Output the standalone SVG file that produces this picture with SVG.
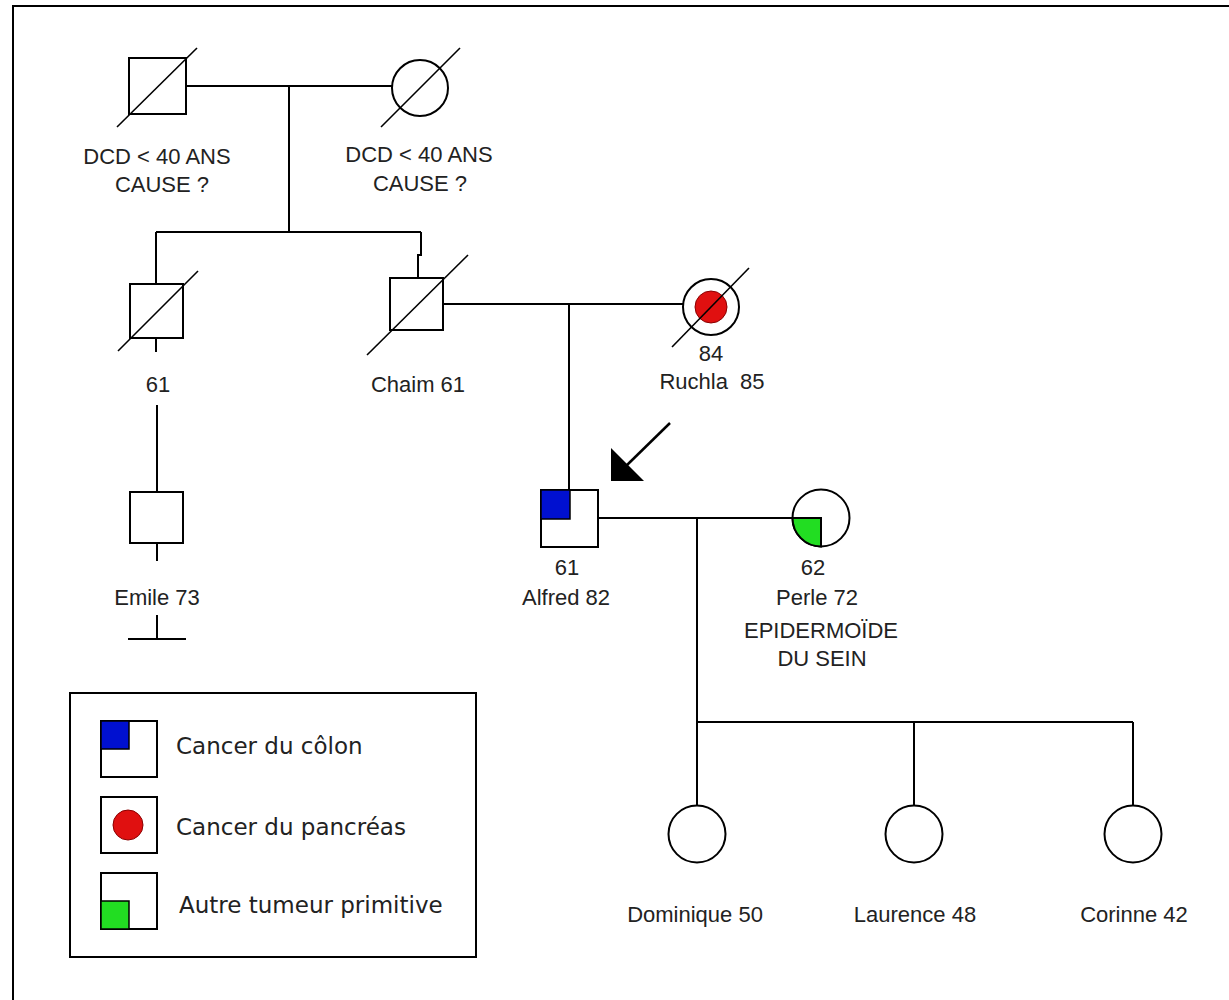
<svg xmlns="http://www.w3.org/2000/svg" width="1229" height="1000" viewBox="0 0 1229 1000">
<style>
.ln{stroke:#000;stroke-width:2;fill:none}
.sym{stroke:#000;stroke-width:2;fill:#fff}
.dg{stroke:#000;stroke-width:1.6}
.t{font-family:"Liberation Sans",Arial,sans-serif;font-size:22px;fill:#222;text-anchor:middle}
.lg{font-family:"DejaVu Sans",Verdana,sans-serif;font-size:23px;fill:#222}
</style>
<rect width="1229" height="1000" fill="#fff"/>
<rect x="13" y="6" width="1240" height="1020" class="ln"/>
<g id="connectors">
<line class="ln" x1="186" y1="86" x2="393" y2="86"/>
<line class="ln" x1="289" y1="86" x2="289" y2="232"/>
<line class="ln" x1="156" y1="232" x2="421" y2="232"/>
<line class="ln" x1="156" y1="232" x2="156" y2="284"/>
<polyline class="ln" points="421,232 421,255 418,255 418,278"/>
<line class="ln" x1="156" y1="338" x2="156" y2="352"/>
<line class="ln" x1="157" y1="405" x2="157" y2="492"/>
<line class="ln" x1="157" y1="543" x2="157" y2="561"/>
<line class="ln" x1="157" y1="615" x2="157" y2="639"/>
<line class="ln" x1="128" y1="639" x2="186" y2="639"/>
<line class="ln" x1="443" y1="304" x2="683" y2="304"/>
<line class="ln" x1="569" y1="304" x2="569" y2="490"/>
<line class="ln" x1="598" y1="518" x2="793" y2="518"/>
<line class="ln" x1="697" y1="518" x2="697" y2="722"/>
<line class="ln" x1="697" y1="722" x2="1133" y2="722"/>
<line class="ln" x1="697" y1="722" x2="697" y2="806"/>
<line class="ln" x1="914" y1="722" x2="914" y2="806"/>
<line class="ln" x1="1133" y1="722" x2="1133" y2="806"/>
</g>
<g id="proband-arrow">
<line x1="670" y1="423" x2="626" y2="466" stroke="#000" stroke-width="2.5"/>
<polygon points="611,448 611,481 644,481" fill="#000"/>
</g>
<g id="gp-father">
<rect class="sym" x="129" y="58" width="57" height="56"/>
<line class="dg" x1="117" y1="127" x2="197" y2="48"/>
<text class="t" x="157" y="164">DCD &lt; 40 ANS</text>
<text class="t" x="162" y="192">CAUSE ?</text>
</g>
<g id="gp-mother">
<circle class="sym" cx="420" cy="88" r="28"/>
<line class="dg" x1="381" y1="127" x2="460" y2="48"/>
<text class="t" x="419" y="162">DCD &lt; 40 ANS</text>
<text class="t" x="420" y="191">CAUSE ?</text>
</g>
<g id="uncle">
<rect class="sym" x="130" y="284" width="53" height="54"/>
<line class="dg" x1="118" y1="351" x2="198" y2="271"/>
<text class="t" x="158" y="392">61</text>
</g>
<g id="chaim">
<rect class="sym" x="390" y="278" width="53" height="52"/>
<line class="dg" x1="367" y1="355" x2="468" y2="255"/>
<text class="t" x="418" y="392">Chaim  61</text>
</g>
<g id="ruchla">
<circle class="sym" cx="711" cy="307" r="28"/>
<circle cx="711" cy="307" r="16" fill="#e01010" stroke="#8a0000" stroke-width="1"/>
<line class="dg" x1="672" y1="347" x2="749" y2="268"/>
<text class="t" x="711" y="361">84</text>
<text class="t" x="712" y="389" xml:space="preserve">Ruchla  85</text>
</g>
<g id="emile">
<rect class="sym" x="130" y="492" width="53" height="51"/>
<text class="t" x="157" y="605">Emile 73</text>
</g>
<g id="alfred">
<rect class="sym" x="541" y="490" width="57" height="57"/>
<rect x="541" y="490" width="29" height="29" fill="#0010d0" stroke="#000" stroke-width="1.5"/>
<text class="t" x="567" y="575">61</text>
<text class="t" x="566" y="605">Alfred 82</text>
</g>
<g id="perle">
<circle class="sym" cx="821" cy="518" r="28.5"/>
<path d="M792.5,518 L821,518 L821,546.5 A28.5,28.5 0 0 1 792.5,518 Z" fill="#22dd22" stroke="#000" stroke-width="2"/>
<text class="t" x="813" y="575">62</text>
<text class="t" x="817" y="605">Perle 72</text>
<text class="t" x="821" y="638">EPIDERMOÏDE</text>
<text class="t" x="822" y="666">DU SEIN</text>
</g>
<g id="dominique">
<circle class="sym" cx="697" cy="834" r="28.5"/>
<text class="t" x="695" y="922">Dominique 50</text>
</g>
<g id="laurence">
<circle class="sym" cx="914" cy="834" r="28.5"/>
<text class="t" x="915" y="922">Laurence 48</text>
</g>
<g id="corinne">
<circle class="sym" cx="1133" cy="834" r="28.5"/>
<text class="t" x="1134" y="922">Corinne 42</text>
</g>
<g id="legend">
<rect class="ln" x="70" y="693" width="406" height="264"/>
<rect class="sym" x="101" y="721" width="56" height="56"/>
<rect x="101" y="721" width="28" height="28" fill="#0010d0" stroke="#000" stroke-width="1.5"/>
<text class="lg" x="176" y="754">Cancer du côlon</text>
<rect class="sym" x="101" y="797" width="56" height="56"/>
<circle cx="128" cy="825" r="15" fill="#e01010" stroke="#8a0000" stroke-width="1"/>
<text class="lg" x="176" y="835">Cancer du pancréas</text>
<rect class="sym" x="101" y="873" width="56" height="56"/>
<rect x="101" y="901" width="28" height="28" fill="#22dd22" stroke="#000" stroke-width="1.5"/>
<text class="lg" x="179" y="913">Autre tumeur primitive</text>
</g>
</svg>
